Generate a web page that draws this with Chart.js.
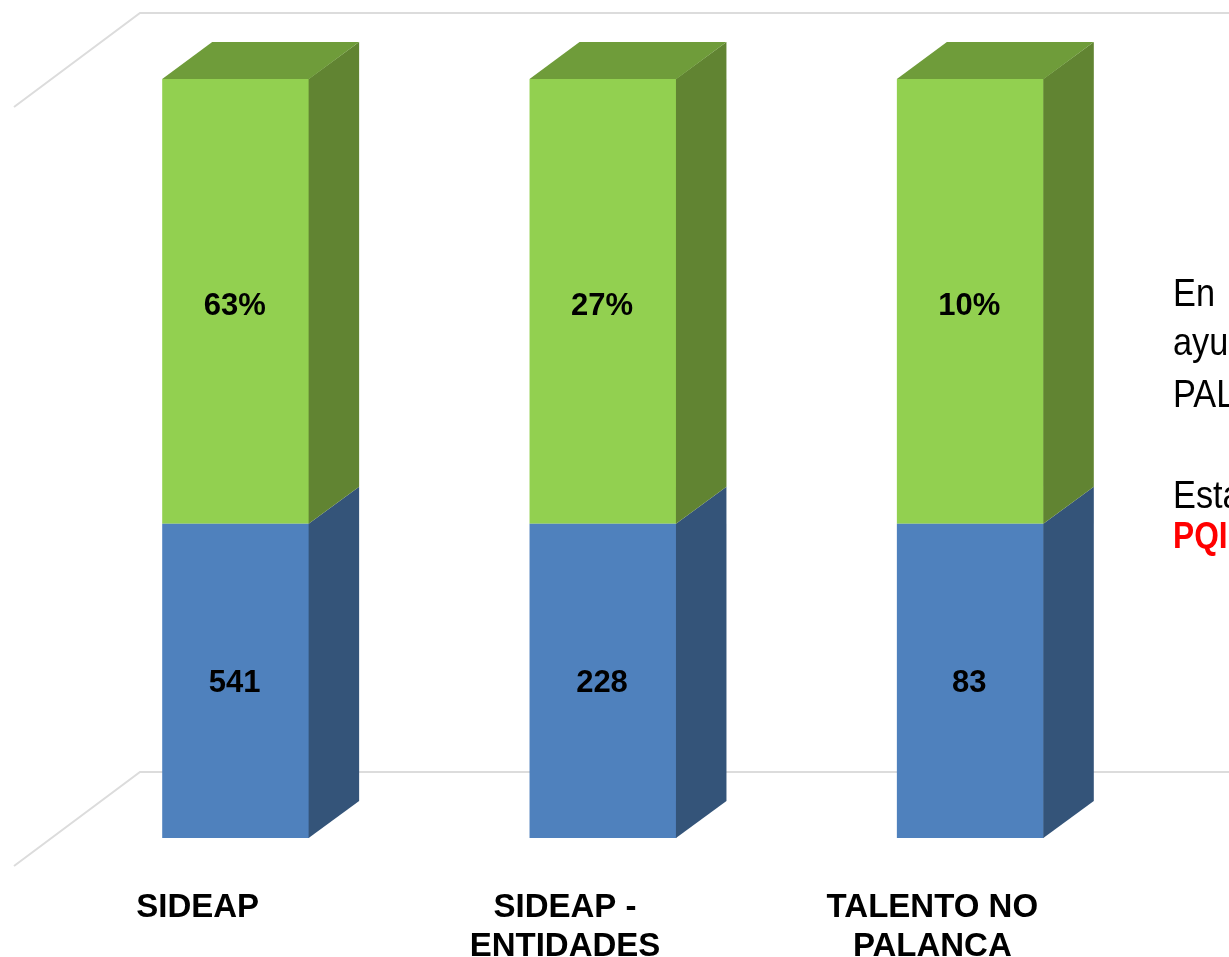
<!DOCTYPE html>
<html lang="es">
<head>
<meta charset="utf-8">
<title>SIDEAP</title>
<script src="https://cdn.jsdelivr.net/npm/chart.js@4/dist/chart.umd.min.js"></script>
<style>
html, body { margin: 0; padding: 0; background: #fff; }
#contenedor { position: relative; width: 1229px; height: 957px; overflow: hidden; }
#grafica { position: absolute; left: 0; top: 0; }
.nota { position: absolute; left: 1173px; font: 39px/39px "Liberation Sans", Arial, sans-serif; color: #000;
        transform: scaleX(0.88); transform-origin: left top; white-space: nowrap; }
.nota.roja { color: #f00; font-weight: bold; font-size: 36px; }
</style>
</head>
<body>
<div id="contenedor">
  <canvas id="grafica" width="1229" height="957"></canvas>
  <div class="nota" style="top:273px">En</div>
  <div class="nota" style="top:322px">ayu</div>
  <div class="nota" style="top:374px">PAL</div>
  <div class="nota" style="top:475px">Esta</div>
  <div class="nota roja" style="top:516px">PQI</div>
</div>
<script>
//------- datos de la grafica
const categorias = [['SIDEAP'], ['SIDEAP -', 'ENTIDADES'], ['TALENTO NO', 'PALANCA']];
const cantidades = ['541', '228', '83'];
const porcentajes = ['63%', '27%', '10%'];
const tramoAzul = [41.4, 41.4, 41.4];
const tramoVerde = [58.6, 58.6, 58.6];

// profundidad del efecto 3D
const fondoX = 50;
const fondoY = 37;

function poligono(ctx, puntos, color){
    ctx.fillStyle = color;
    ctx.beginPath();
    puntos.forEach((p, i) => i == 0 ? ctx.moveTo(p[0], p[1]) : ctx.lineTo(p[0], p[1]));
    ctx.closePath();
    ctx.fill();
}

// lineas del piso y de la pared, van detras de las barras
const pluginRejilla = {
    id: 'rejilla',
    beforeDatasetsDraw(chart){
        const ctx = chart.ctx;
        const y = chart.scales.y;
        ctx.save();
        ctx.strokeStyle = '#dcdcdc';
        ctx.lineWidth = 2;
        [y.getPixelForValue(0), y.getPixelForValue(100)].forEach(base => {
            ctx.beginPath();
            ctx.moveTo(14, base + 28);
            ctx.lineTo(140, base - 66);
            ctx.lineTo(chart.width, base - 66);
            ctx.stroke();
        });
        ctx.restore();
    }
};

// caras laterales, tapa superior y textos de cada barra
const pluginCaras = {
    id: 'caras',
    afterDatasetsDraw(chart){
        const ctx = chart.ctx;
        const lateral = ['#345479', '#618432'];
        ctx.save();
        chart.data.datasets.forEach((ds, d) => {
            chart.getDatasetMeta(d).data.forEach((barra, i) => {
                const der = barra.x + barra.width / 2;
                const izq = barra.x - barra.width / 2;
                poligono(ctx, [[der - 0.5, barra.y], [der + fondoX, barra.y - fondoY], [der + fondoX, barra.base - fondoY], [der - 0.5, barra.base]], lateral[d]);
                if(d == 1){
                    poligono(ctx, [[izq, barra.y], [izq + fondoX, barra.y - fondoY], [der + fondoX, barra.y - fondoY], [der, barra.y]], '#6f9c3a');
                }
                const textos = d == 0 ? cantidades : porcentajes;
                ctx.fillStyle = '#000';
                ctx.font = 'bold 31px "Liberation Sans", Arial, sans-serif';
                ctx.textAlign = 'center';
                ctx.textBaseline = 'middle';
                ctx.fillText(textos[i], barra.x - 1, (barra.y + barra.base) / 2 + (d == 1 ? 5 : 3));
            });
        });
        ctx.restore();
    }
};

new Chart(document.getElementById('grafica').getContext('2d'), {
    type: 'bar',
    data: {
        labels: categorias,
        datasets: [
            { label: 'Cantidad', data: tramoAzul, backgroundColor: '#4f81bd' },
            { label: 'Porcentaje', data: tramoVerde, backgroundColor: '#92d050' }
        ]
    },
    plugins: [pluginRejilla, pluginCaras],
    options: {
        responsive: false,
        animation: false,
        layout: { padding: { left: 52, right: 75, top: 79, bottom: 0 } },
        datasets: { bar: { barPercentage: 1, categoryPercentage: 0.4 } },
        plugins: { legend: { display: false }, tooltip: { enabled: false } },
        scales: {
            x: {
                stacked: true,
                grid: { display: false },
                border: { display: false },
                afterFit(escala){ escala.height = 119; },
                ticks: {
                    autoSkip: false,
                    maxRotation: 0,
                    minRotation: 0,
                    labelOffset: -38,
                    padding: 42,
                    color: '#000',
                    font: { family: '"Liberation Sans", Arial, sans-serif', size: 33, weight: 'bold', lineHeight: 1.18 }
                }
            },
            y: { stacked: true, display: false, min: 0, max: 100 }
        }
    }
});
</script>
</body>
</html>
